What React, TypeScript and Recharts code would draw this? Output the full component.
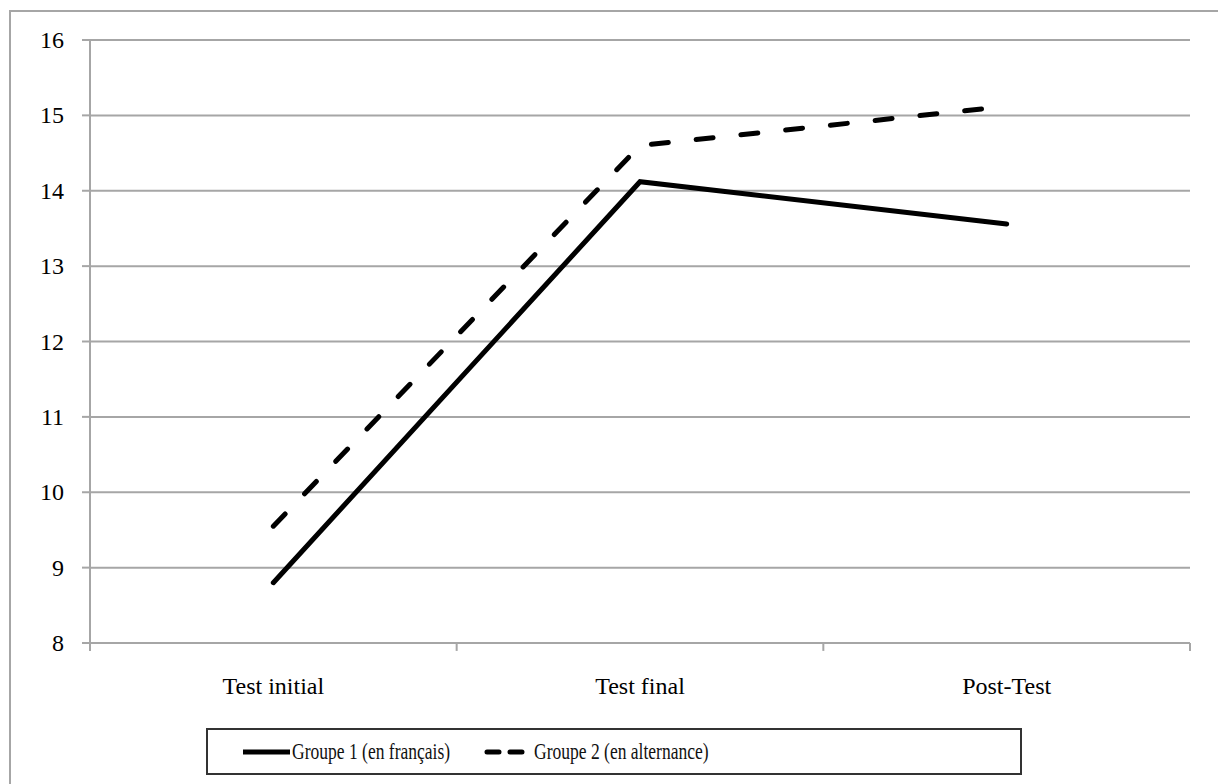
import React from "react";
import { CartesianGrid, Line, LineChart, ReferenceLine, XAxis, YAxis } from "recharts";

const categories = ["Test initial", "Test final", "Post-Test"];
const positions = [0.5, 1.5, 2.5];
const groupe1 = [8.8, 14.12, 13.56];
const groupe2 = [9.55, 14.6, 15.12];
const yTicks = [8, 9, 10, 11, 12, 13, 14, 15, 16];
const bounds = [0, 1, 2, 3];

const seriesNames = ["Groupe 1 (en français)", "Groupe 2 (en alternance)"];

const data = categories.map((name, i) => ({
    name,
    pos: positions[i],
    g1: groupe1[i],
    g2: groupe2[i],
}));

const FONT = '"Liberation Serif", "Times New Roman", serif';
const GRID = "#a6a6a6";

function XTick({ x, y, payload }: any) {
    return (
        <text x={x} y={y} dy={18} textAnchor="middle" fill="#000" fontSize={24} fontFamily={FONT}>
            {categories[positions.indexOf(payload.value)]}
        </text>
    );
}

function YTick({ x, y, payload }: any) {
    return (
        <text x={x} y={y} dy={8} textAnchor="end" fill="#000" fontSize={24} fontFamily={FONT}>
            {payload.value}
        </text>
    );
}

function LegendBox() {
    const text: React.CSSProperties = {
        position: "absolute",
        top: 6,
        fontFamily: FONT,
        fontSize: 24,
        lineHeight: "30px",
        color: "#111",
        transform: "scaleX(0.73)",
        transformOrigin: "left center",
        whiteSpace: "nowrap",
    };
    return (
        <div
            style={{
                position: "absolute",
                left: 206,
                top: 728,
                width: 812,
                height: 43,
                border: "2px solid #333",
                background: "#fff",
            }}
        >
            <svg style={{ position: "absolute", left: 0, top: 0 }} width={812} height={43}>
                <line x1={35} x2={82} y1={22} y2={22} stroke="#000" strokeWidth={5} />
                <line x1={279} x2={314} y1={22} y2={22} stroke="#000" strokeWidth={5} strokeDasharray="12 11" strokeLinecap="round" />
            </svg>
            <span style={{ ...text, left: 84 }}>{seriesNames[0]}</span>
            <span style={{ ...text, left: 326 }}>{seriesNames[1]}</span>
        </div>
    );
}

export default function App() {
    return (
        <div style={{ position: "absolute", left: 0, top: 0, width: 1218, height: 784, background: "#fff", overflow: "hidden" }}>
            <div
                style={{
                    position: "absolute",
                    left: 9,
                    top: 10,
                    width: 1240,
                    height: 800,
                    borderLeft: `2px solid ${GRID}`,
                    borderTop: `2px solid ${GRID}`,
                }}
            />
            <LineChart
                width={1218}
                height={784}
                data={data}
                margin={{ top: 40, right: 28, left: 0, bottom: 91 }}
                style={{ position: "absolute", left: 0, top: 0 }}
            >
                <CartesianGrid vertical={false} stroke={GRID} strokeWidth={2} />
                <XAxis
                    dataKey="pos"
                    type="number"
                    domain={[0, 3]}
                    ticks={positions}
                    tickLine={false}
                    tickSize={0}
                    tickMargin={33}
                    height={50}
                    axisLine={{ stroke: GRID, strokeWidth: 2 }}
                    tick={<XTick />}
                />
                <YAxis
                    domain={[8, 16]}
                    ticks={yTicks}
                    width={90}
                    tickSize={8}
                    tickMargin={18}
                    tickLine={{ stroke: GRID, strokeWidth: 2 }}
                    axisLine={{ stroke: GRID, strokeWidth: 2 }}
                    tick={<YTick />}
                />
                {bounds.map((b) => (
                    <ReferenceLine
                        key={b}
                        segment={[
                            { x: b, y: 8 },
                            { x: b, y: 7.895 },
                        ]}
                        ifOverflow="visible"
                        stroke={GRID}
                        strokeWidth={2}
                    />
                ))}
                <Line
                    type="linear"
                    dataKey="g1"
                    name={seriesNames[0]}
                    stroke="#000"
                    strokeWidth={5}
                    strokeLinecap="round"
                    dot={false}
                    isAnimationActive={false}
                />
                <Line
                    type="linear"
                    dataKey="g2"
                    name={seriesNames[1]}
                    stroke="#000"
                    strokeWidth={5}
                    strokeLinecap="round"
                    strokeDasharray="17 28"
                    dot={false}
                    isAnimationActive={false}
                />
            </LineChart>
            <LegendBox />
        </div>
    );
}
